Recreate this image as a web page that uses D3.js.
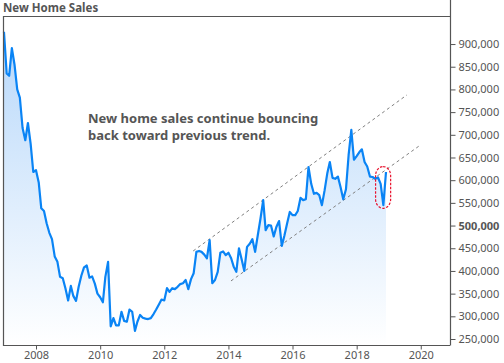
<!DOCTYPE html>
<html>
<head>
<meta charset="utf-8">
<script src="https://cdn.jsdelivr.net/npm/d3@7"></script>
<style>
  body { margin: 0; background: #fff; }
  svg text { font-family: "Noto Sans", sans-serif; }
</style>
</head>
<body>
<svg id="chart"></svg>
<script>
// monthly new home sales, thousands (SAAR), Jan 2007 .. Dec 2018
var startMonth = new Date(2007, 0, 1);
var salesK = [
  927, 835, 830, 891, 855, 800, 782, 715, 688, 726, 680, 618,   // 2007
  622, 595, 538, 532, 505, 484, 470, 432, 420, 387, 384, 362,   // 2008
  335, 367, 345, 334, 365, 390, 408, 412, 385, 388, 372, 350,   // 2009
  342, 331, 387, 420, 278, 296, 280, 280, 310, 290, 288, 315,   // 2010
  310, 268, 288, 303, 297, 295, 294, 296, 305, 315, 326, 337,   // 2011
  335, 362, 354, 362, 360, 365, 371, 373, 380, 360, 382, 395,   // 2012
  442, 444, 442, 436, 428, 468, 373, 380, 398, 440, 443, 435,   // 2013
  440, 428, 410, 398, 450, 425, 400, 453, 460, 470, 442, 478,   // 2014
  515, 556, 490, 501, 500, 476, 497, 510, 455, 478, 505, 530,   // 2015
  523, 523, 532, 561, 556, 558, 629, 592, 570, 572, 567, 545,   // 2016
  578, 616, 640, 605, 603, 608, 585, 558, 580, 655, 711, 645,   // 2017
  653, 662, 668, 640, 630, 608, 607, 603, 606, 592, 545, 618    // 2018
];
var months = d3.timeMonth.range(startMonth, d3.timeMonth.offset(startMonth, salesK.length));

var yTicks = [250000, 300000, 350000, 400000, 450000, 500000, 550000, 600000,
              650000, 700000, 750000, 800000, 850000, 900000];
var xTickYears = [2008, 2010, 2012, 2014, 2016, 2018, 2020];

// trend channel, [fractional year, thousands]
var upperTrend = [[2012.9, 444], [2019.57, 788]];
var lowerTrend = [[2014.08, 378], [2019.98, 677]];
// highlighted latest bounce
var bounce = {from: 2018.59, to: 2019.06, lo: 538, hi: 630};

var noteLines = ['New home sales continue bouncing', 'back toward previous trend.'];

var width = 504, height = 363,
    plot = {left: 3, right: 450, top: 16, bottom: 345},
    textColor = '#555';

function yearToDate(y) {
  var yr = Math.floor(y), start = new Date(yr, 0, 1), end = new Date(yr + 1, 0, 1);
  return new Date(+start + (y - yr) * (end - start));
}

var svg = d3.select('#chart')
    .attr('width', width)
    .attr('height', height);

var x = d3.scaleTime()
    .domain([yearToDate(2006.97), yearToDate(2020.91)])
    .range([plot.left, plot.right]);
var y = d3.scaleLinear()
    .domain([236800, 961800])
    .range([plot.bottom, plot.top]);

var data = salesK.map((v, i) => ({date: months[i], value: v * 1000}));

//-----------gradient for the area---------
var grad = svg.append('defs')
  .append('linearGradient')
    .attr('id', 'fillGrad')
    .attr('gradientUnits', 'userSpaceOnUse')
    .attr('x1', 0).attr('x2', 0)
    .attr('y1', plot.top).attr('y2', plot.bottom);
grad.append('stop').attr('offset', 0).attr('stop-color', '#b4d6fa');
grad.append('stop').attr('offset', 1).attr('stop-color', '#ffffff');

svg.append('path')
    .datum(data)
    .attr('fill', 'url(#fillGrad)')
    .attr('d', d3.area()
        .x(d => x(d.date))
        .y0(plot.bottom)
        .y1(d => y(d.value)));

//-----------trend channel---------
svg.selectAll('line.trend')
  .data([upperTrend, lowerTrend])
  .enter()
  .append('line')
    .classed('trend', true)
    .attr('x1', d => x(yearToDate(d[0][0])))
    .attr('y1', d => y(d[0][1] * 1000))
    .attr('x2', d => x(yearToDate(d[1][0])))
    .attr('y2', d => y(d[1][1] * 1000))
    .attr('stroke', '#808080')
    .attr('stroke-width', 1)
    .attr('stroke-dasharray', '3,3');

//-----------sales line---------
svg.append('path')
    .datum(data)
    .attr('fill', 'none')
    .attr('stroke', '#0a84f5')
    .attr('stroke-width', 2.2)
    .attr('stroke-linejoin', 'round')
    .attr('d', d3.line()
        .x(d => x(d.date))
        .y(d => y(d.value)));

//-----------highlight---------
var bx0 = x(yearToDate(bounce.from)), bx1 = x(yearToDate(bounce.to)),
    by0 = y(bounce.hi * 1000), by1 = y(bounce.lo * 1000);
svg.append('rect')
    .attr('x', bx0)
    .attr('y', by0)
    .attr('width', bx1 - bx0)
    .attr('height', by1 - by0)
    .attr('rx', (bx1 - bx0) / 2)
    .attr('ry', 9)
    .attr('fill', 'none')
    .attr('stroke', '#e8102c')
    .attr('stroke-width', 1.2)
    .attr('stroke-dasharray', '2.5,1.5');

//-----------frame---------
svg.append('path')
    .attr('d', `M${plot.right},${plot.top + 0.5}H${plot.left + 0.5}V${plot.bottom + 0.5}H${plot.right}`)
    .attr('fill', 'none')
    .attr('stroke', textColor)
    .attr('stroke-width', 1.2);

//-----------axes---------
var yAxis = d3.axisRight(y)
    .tickValues(yTicks)
    .tickSize(5)
    .tickSizeOuter(0)
    .tickPadding(3)
    .tickFormat(d3.format(','));
var gy = svg.append('g')
    .attr('transform', `translate(${plot.right + 0.5},0)`)
    .call(yAxis);
gy.select('.domain')
    .attr('stroke', textColor)
    .attr('stroke-width', 1.2)
    .attr('d', `M0,${plot.top - 16}V${plot.bottom + 0.5}`);
gy.selectAll('.tick line').attr('stroke', textColor);
gy.selectAll('.tick text')
    .attr('fill', textColor)
    .style('font-size', '11px')
    .style('font-weight', d => d == 500000 ? 'bold' : 'normal');

var xAxis = d3.axisBottom(x)
    .tickValues(xTickYears.map(yr => new Date(yr, 0, 1)))
    .tickSize(4)
    .tickSizeOuter(0)
    .tickPadding(2)
    .tickFormat(d3.timeFormat('%Y'));
var gx = svg.append('g')
    .attr('transform', `translate(0,${plot.bottom + 0.5})`)
    .call(xAxis);
gx.select('.domain').remove();
gx.selectAll('.tick line').attr('stroke', textColor);
gx.selectAll('.tick text')
    .attr('fill', textColor)
    .style('font-size', '11px');

//-----------title & note---------
svg.append('text')
    .attr('x', 3)
    .attr('y', 12)
    .attr('fill', textColor)
    .style('font-size', '11.5px')
    .style('font-weight', 'bold')
    .text('New Home Sales');

svg.append('text')
    .attr('x', 88)
    .attr('y', 123)
    .attr('fill', textColor)
    .style('font-size', '13px')
    .style('font-weight', 'bold')
  .selectAll('tspan')
  .data(noteLines)
  .enter()
  .append('tspan')
    .attr('x', 88)
    .attr('dy', (d, i) => i ? 16.5 : 0)
    .text(d => d);
</script>
</body>
</html>
